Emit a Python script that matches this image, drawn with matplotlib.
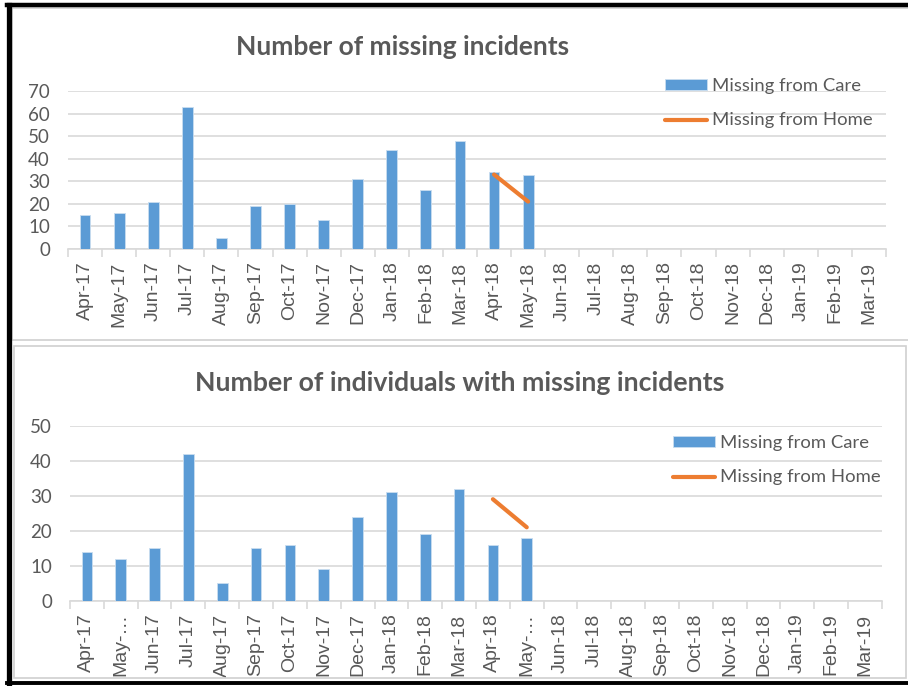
import matplotlib
matplotlib.use("Agg")
import matplotlib.pyplot as plt
from matplotlib.patches import Rectangle
from matplotlib.lines import Line2D

# months on the x axis
months = ["Apr-17", "May-17", "Jun-17", "Jul-17", "Aug-17", "Sep-17", "Oct-17",
          "Nov-17", "Dec-17", "Jan-18", "Feb-18", "Mar-18", "Apr-18", "May-18",
          "Jun-18", "Jul-18", "Aug-18", "Sep-18", "Oct-18", "Nov-18", "Dec-18",
          "Jan-19", "Feb-19", "Mar-19"]
months_short = ["Apr-17", "May-…", "Jun-17", "Jul-17", "Aug-17", "Sep-17", "Oct-17",
                "Nov-17", "Dec-17", "Jan-18", "Feb-18", "Mar-18", "Apr-18", "May-…",
                "Jun-18", "Jul-18", "Aug-18", "Sep-18", "Oct-18", "Nov-18", "Dec-18",
                "Jan-19", "Feb-19", "Mar-19"]

# incidents
incidents_care = [15, 16, 21, 63, 5, 19, 20, 13, 31, 44, 26, 48, 34, 33]
incidents_home = [33, 21]          # Apr-18, May-18

# individuals
individuals_care = [14, 12, 15, 42, 5, 15, 16, 9, 24, 31, 19, 32, 16, 18]
individuals_home = [29, 21]        # Apr-18, May-18

home_start = 12

BLUE = "#5b9bd5"
ORANGE = "#ed7d31"
GRID = "#d9d9d9"
TXT = "#595959"
W, H = 908, 686


def px(x, y):
    return x / W, 1 - y / H


def draw_panel(ax, labels, care, home, ymax, ystep):
    n = len(labels)
    xs = list(range(len(care)))
    bars = ax.bar(xs, care, width=0.32, color=BLUE, edgecolor="#c9ddf0", linewidth=0.6,
                  label="Missing from Care", zorder=3)
    hx = [home_start + i for i in range(len(home))]
    line, = ax.plot(hx, home, color=ORANGE, lw=3, solid_capstyle="round",
                    label="Missing from Home", zorder=4)
    ax.set_xlim(-0.5, n - 0.5)
    ax.set_ylim(0, ymax)
    ax.set_yticks(range(0, ymax + 1, ystep))
    ax.set_xticks(range(n))
    ax.set_xticklabels(labels, rotation=90, fontsize=14, family="Liberation Sans", color=TXT)
    ax.set_xticks([i - 0.5 for i in range(n + 1)], minor=True)
    ax.tick_params(axis="x", which="major", length=0, pad=9)
    ax.tick_params(axis="x", which="minor", length=6, color=GRID, width=1.2)
    ax.tick_params(axis="y", length=0, pad=13, labelsize=13.5, labelcolor=TXT)
    for t in ax.get_yticklabels():
        t.set_family("Lato")
    ax.grid(axis="y", color=GRID, lw=1.2, zorder=0)
    for s in ["top", "right", "left"]:
        ax.spines[s].set_visible(False)
    ax.spines["bottom"].set_color(GRID)
    ax.spines["bottom"].set_linewidth(1.2)
    ax.set_facecolor("none")
    return bars, line


fig = plt.figure(figsize=(W / 100, H / 100), dpi=100)

# panel frames
fig.patches.append(Rectangle(px(12, 340), 1, 332 / H, transform=fig.transFigure,
                             fill=False, ec="#d0d0d0", lw=1.2))
fig.patches.append(Rectangle(px(14, 678), 892 / W, 332 / H, transform=fig.transFigure,
                             fill=False, ec="#d0d0d0", lw=1.2))
fig.add_artist(Line2D([9 / W, 9 / W], [1 - 5 / H, 1 - 683 / H], transform=fig.transFigure,
                      color="black", lw=3.8))
fig.add_artist(Line2D([7 / W, 1], [1 - 5 / H, 1 - 5 / H], transform=fig.transFigure,
                      color="black", lw=3.2))
fig.add_artist(Line2D([7 / W, 1], [1 - 683 / H, 1 - 683 / H], transform=fig.transFigure,
                      color="black", lw=2.8))

ax1 = fig.add_axes([68 / W, 1 - 249 / H, 818 / W, 158 / H])
h1 = draw_panel(ax1, months, incidents_care, incidents_home, 70, 10)
ax2 = fig.add_axes([70 / W, 1 - 601 / H, 812 / W, 175.5 / H])
h2 = draw_panel(ax2, months_short, individuals_care, individuals_home, 50, 10)

fig.text(403 / W, 1 - 47 / H, "Number of missing incidents", ha="center", va="center",
         fontsize=19, fontweight="bold", family="Lato", color=TXT)
fig.text(460 / W, 1 - 383 / H, "Number of individuals with missing incidents", ha="center",
         va="center", fontsize=19.2, fontweight="bold", family="Lato", color=TXT)

for ax, hh, lx, ly in [(ax1, h1, 665, 78), (ax2, h2, 673, 435)]:
    ax.legend(list(hh), ["Missing from Care", "Missing from Home"],
              loc="upper left", bbox_to_anchor=px(lx, ly), bbox_transform=fig.transFigure,
              frameon=False, prop={"family": "Lato", "size": 13.3}, labelcolor=TXT,
              handlelength=2.3, handleheight=0.5, handletextpad=0.25,
              labelspacing=1.0, borderpad=0, borderaxespad=0)

fig.savefig("out.png", dpi=100, facecolor="white")
